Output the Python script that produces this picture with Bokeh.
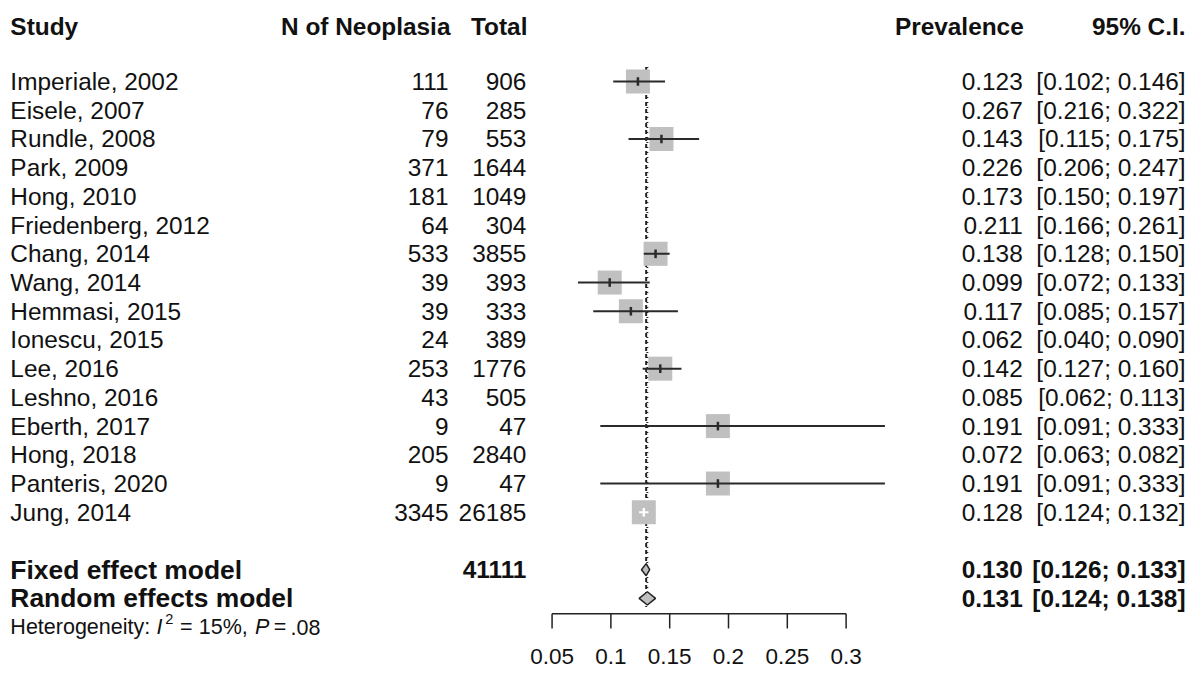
from bokeh.plotting import figure
from bokeh.models import Range1d
from bokeh.embed import file_html
from bokeh.resources import INLINE
from bokeh.core.properties import value

# ---------------- data ----------------
studies = ["Imperiale, 2002", "Eisele, 2007", "Rundle, 2008", "Park, 2009", "Hong, 2010",
           "Friedenberg, 2012", "Chang, 2014", "Wang, 2014", "Hemmasi, 2015", "Ionescu, 2015",
           "Lee, 2016", "Leshno, 2016", "Eberth, 2017", "Hong, 2018", "Panteris, 2020", "Jung, 2014"]
n_neoplasia = [111, 76, 79, 371, 181, 64, 533, 39, 39, 24, 253, 43, 9, 205, 9, 3345]
totals = [906, 285, 553, 1644, 1049, 304, 3855, 393, 333, 389, 1776, 505, 47, 2840, 47, 26185]
prevalence = [0.123, 0.267, 0.143, 0.226, 0.173, 0.211, 0.138, 0.099, 0.117, 0.062,
              0.142, 0.085, 0.191, 0.072, 0.191, 0.128]
ci_lower = [0.102, 0.216, 0.115, 0.206, 0.150, 0.166, 0.128, 0.072, 0.085, 0.040,
            0.127, 0.062, 0.091, 0.063, 0.091, 0.124]
ci_upper = [0.146, 0.322, 0.175, 0.247, 0.197, 0.261, 0.150, 0.133, 0.157, 0.090,
            0.160, 0.113, 0.333, 0.082, 0.333, 0.132]
# markers that appear in the plotted panel of the reference
marker_shown = [True, False, True, False, False, False, True, True, True, False,
                True, False, True, False, True, True]

model_labels = ["Fixed effect model", "Random effects model"]
model_total = 41111
model_est = [0.130, 0.131]
model_lower = [0.126, 0.124]
model_upper = [0.133, 0.138]

axis_ticks = [0.05, 0.1, 0.15, 0.2, 0.25, 0.3]
axis_tick_labels = ["0.05", "0.1", "0.15", "0.2", "0.25", "0.3"]

headers = ["Study", "N of Neoplasia", "Total", "Prevalence", "95% C.I."]
het_parts = ["Heterogeneity:", "I", "2", "=", "15%,", "P", "=", ".08"]

# ---------------- layout helpers (reference pixel -> data) ----------------
W, H = 1188, 668
REF_W, REF_H = 1204, 684
SC = H / REF_H

def vx(px):
    return 0.05 + (px - 559.0) / 1192.0

def ry(py):
    return (py - 83.0) / 29.4

def fs(px):
    return value("%.1fpx" % (px * SC))

FONT = value("Liberation Sans")
TXT = "#111111"

p = figure(width=W, height=H, output_backend="svg", toolbar_location=None,
           x_range=Range1d(vx(0), vx(REF_W)), y_range=Range1d(ry(REF_H), ry(0)),
           x_axis_location=None, y_axis_location=None, min_border=0,
           background_fill_color="white", border_fill_color="white")
p.outline_line_color = None
p.grid.visible = False

rows = list(range(len(studies)))

# ---------------- reference lines ----------------
p.segment(x0=[model_est[0]], y0=[ry(68)], x1=[model_est[0]], y1=[ry(621)],
          line_color="#222222", line_width=2, line_dash="4 3")
p.segment(x0=[model_est[1]], y0=[ry(68)], x1=[model_est[1]], y1=[ry(621)],
          line_color="#222222", line_width=2, line_dash="1 4")

# ---------------- study markers ----------------
sx = [prevalence[i] for i in rows if marker_shown[i]]
sy = [rows[i] for i in rows if marker_shown[i]]
slo = [ci_lower[i] for i in rows if marker_shown[i]]
shi = [ci_upper[i] for i in rows if marker_shown[i]]
scol = ["white" if studies[i] == "Jung, 2014" else "#2a2a2a" for i in rows if marker_shown[i]]

p.rect(x=sx, y=sy, width=24, height=24, width_units="screen", height_units="screen",
       fill_color="#c0c0c0", line_color=None)
p.segment(x0=slo, y0=sy, x1=shi, y1=sy, line_color=scol, line_width=2)
p.segment(x0=sx, y0=[y - 0.15 for y in sy], x1=sx, y1=[y + 0.15 for y in sy],
          line_color=scol, line_width=2.5)

# ---------------- summary diamonds ----------------
drow = [17, 18]
dh = [0.21, 0.23]
xs = [[model_lower[k], model_est[k], model_upper[k], model_est[k]] for k in range(2)]
ys = [[drow[k], drow[k] - dh[k], drow[k], drow[k] + dh[k]] for k in range(2)]
p.patches(xs=xs, ys=ys, fill_color="#bfbfbf", line_color="#222222", line_width=1.5)

# ---------------- axis ----------------
ay = ry(628)
p.segment(x0=[axis_ticks[0]], y0=[ay], x1=[axis_ticks[-1]], y1=[ay],
          line_color="#222222", line_width=1.5)
p.segment(x0=axis_ticks, y0=[ay] * len(axis_ticks), x1=axis_ticks, y1=[ry(643)] * len(axis_ticks),
          line_color="#222222", line_width=1.5)
p.text(x=axis_ticks, y=[ry(672)] * len(axis_ticks), text=axis_tick_labels, text_align="center",
       text_baseline="middle", text_font=FONT, text_font_size=fs(23), text_color=TXT)

# ---------------- text columns ----------------
def col(xpx, ys_, texts, align, bold=False, size=25):
    p.text(x=[vx(xpx)] * len(texts), y=ys_, text=texts, text_align=align,
           text_baseline="middle", text_font=FONT, text_font_size=fs(size),
           text_font_style="bold" if bold else "normal", text_color=TXT)

hy = [ry(27)]
col(10, hy, [headers[0]], "left", True)
col(456, hy, [headers[1]], "right", True)
col(534, hy, [headers[2]], "right", True)
col(1037, hy, [headers[3]], "right", True)
col(1201, hy, [headers[4]], "right", True)

col(10, rows, studies, "left")
col(454, rows, [str(v) for v in n_neoplasia], "right")
col(533, rows, [str(v) for v in totals], "right")
col(1036, rows, ["%.3f" % v for v in prevalence], "right")
col(1201, rows, ["[%.3f; %.3f]" % (a, b) for a, b in zip(ci_lower, ci_upper)], "right")

col(10, drow, model_labels, "left", True, size=27)
col(533, [drow[0]], [str(model_total)], "right", True)
col(1036, drow, ["%.3f" % v for v in model_est], "right", True)
col(1201, drow, ["[%.3f; %.3f]" % (a, b) for a, b in zip(model_lower, model_upper)], "right", True)

# heterogeneity line (plotmath-like composition)
het_y = ry(642)
het_x = [10, 158, 167, 182, 201, 258, 277, 294]
het_dy = [0, 0, -0.28, 0, 0, 0, 0, 0]
het_size = [22, 22, 15, 22, 22, 22, 22, 22]
het_style = ["normal", "italic", "normal", "normal", "normal", "italic", "normal", "normal"]
for k in range(len(het_parts)):
    p.text(x=[vx(het_x[k])], y=[het_y + het_dy[k]], text=[het_parts[k]], text_baseline="middle",
           text_font=FONT, text_font_size=fs(het_size[k]), text_font_style=het_style[k],
           text_color=TXT)

open("out.html", "w").write(file_html(p, INLINE))
